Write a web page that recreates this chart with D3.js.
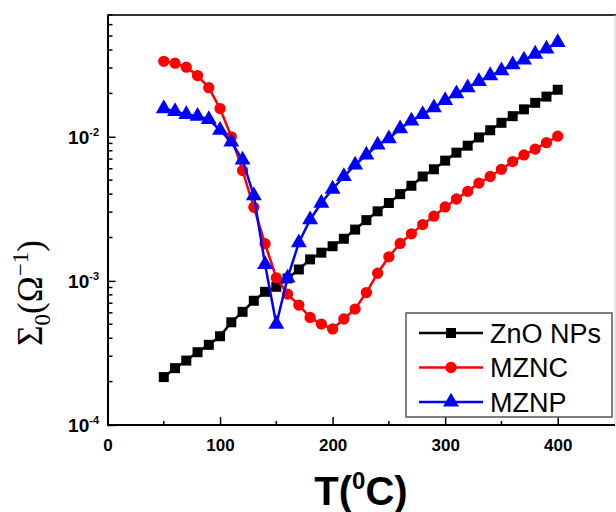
<!DOCTYPE html>
<html>
<head>
<meta charset="utf-8">
<script src="https://cdn.jsdelivr.net/npm/d3@7"></script>
<style>
  body { margin: 0; background: #fff; }
  svg { display: block; }
</style>
</head>
<body>
<svg id="chart" width="616" height="512"></svg>
<script>
// temperatures, 50..400 step 10
var temps = [50,60,70,80,90,100,110,120,130,140,150,160,170,180,190,200,210,220,230,240,
             250,260,270,280,290,300,310,320,330,340,350,360,370,380,390,400];

var znoValues = [2.15e-4,2.48e-4,2.8e-4,3.2e-4,3.6e-4,4.13e-4,5.16e-4,6.1e-4,7.28e-4,8.4e-4,
                 9.1e-4,1.04e-3,1.2e-3,1.41e-3,1.57e-3,1.74e-3,1.96e-3,2.27e-3,2.64e-3,3.04e-3,
                 3.47e-3,4.0e-3,4.57e-3,5.3e-3,5.95e-3,6.83e-3,7.76e-3,8.67e-3,9.9e-3,1.11e-2,
                 1.25e-2,1.39e-2,1.55e-2,1.72e-2,1.9e-2,2.12e-2];

var mzncValues = [3.34e-2,3.24e-2,3.04e-2,2.66e-2,2.19e-2,1.57e-2,1.0e-2,5.83e-3,3.24e-3,1.81e-3,
                  1.05e-3,8.1e-4,6.8e-4,5.58e-4,5.02e-4,4.64e-4,5.44e-4,6.38e-4,8.3e-4,1.13e-3,
                  1.47e-3,1.82e-3,2.12e-3,2.46e-3,2.81e-3,3.26e-3,3.7e-3,4.18e-3,4.77e-3,5.3e-3,
                  5.95e-3,6.73e-3,7.48e-3,8.22e-3,9.1e-3,1.01e-2];

var mznpValues = [1.57e-2,1.5e-2,1.43e-2,1.39e-2,1.32e-2,1.11e-2,9.2e-3,6.9e-3,3.9e-3,1.3e-3,
                  5.0e-4,1.05e-3,1.84e-3,2.66e-3,3.47e-3,4.34e-3,5.3e-3,6.38e-3,7.48e-3,8.77e-3,
                  9.7e-3,1.14e-2,1.29e-2,1.43e-2,1.59e-2,1.79e-2,1.99e-2,2.19e-2,2.42e-2,2.66e-2,
                  2.88e-2,3.17e-2,3.41e-2,3.75e-2,4.07e-2,4.52e-2];

var seriesNames = ["ZnO NPs", "MZNC", "MZNP"];
var xTicks = [0, 100, 200, 300, 400];
var xMinorTicks = [50, 150, 250, 350];
var yDecades = [1e-4, 1e-3, 1e-2];
var yExponents = ["-4", "-3", "-2"];

(function () {
  var series = [
    { name: seriesNames[0], values: znoValues, color: "#000000", symbol: d3.symbolSquare, size: 100 },
    { name: seriesNames[1], values: mzncValues, color: "#ff0000", symbol: d3.symbolCircle, size: 100 },
    { name: seriesNames[2], values: mznpValues, color: "#0000ff", symbol: d3.symbolTriangle, size: 110 }
  ];

  var svg = d3.select("#chart");
  var pLeft = 107.5, pRight = 614, pTop = 15, pBottom = 425;

  var x = d3.scaleLinear().domain([0, 450]).range([pLeft, pRight]);
  var y = d3.scaleLog().domain([1e-4, 7e-2]).range([pBottom, pTop]);

  // frame
  svg.append("line").attr("x1", pLeft).attr("x2", 616).attr("y1", pTop).attr("y2", pTop)
    .attr("stroke", "#333").attr("stroke-width", 2);
  svg.append("line").attr("x1", 615).attr("x2", 615).attr("y1", pTop).attr("y2", pBottom)
    .attr("stroke", "#ccc").attr("stroke-width", 1);

  // x axis
  var xAxis = svg.append("g").attr("transform", "translate(0," + pBottom + ")");
  xAxis.call(d3.axisBottom(x).tickValues(xTicks).tickSizeInner(-8).tickSizeOuter(0).tickPadding(14));
  xAxis.select(".domain").attr("stroke-width", 2).attr("d", "M" + pLeft + ",0H615");
  xAxis.selectAll(".tick line").attr("stroke-width", 1.5);
  xAxis.selectAll("text").attr("font-family", "Liberation Sans, Arial, sans-serif")
    .attr("font-weight", "bold").attr("font-size", 17).attr("fill", "#000");
  xAxis.selectAll(".minor").data(xMinorTicks).enter().append("line")
    .attr("x1", function(d) { return x(d); }).attr("x2", function(d) { return x(d); })
    .attr("y1", 0).attr("y2", -4).attr("stroke", "#000").attr("stroke-width", 1.5);

  // y axis
  var minor = [];
  yDecades.forEach(function(dec) {
    for (var k = 2; k <= 9; k++) { if (dec * k <= 7e-2 + 1e-9) minor.push(dec * k); }
  });
  var yAxis = svg.append("g").attr("transform", "translate(" + pLeft + ",0)");
  yAxis.call(d3.axisLeft(y).tickValues(yDecades).tickSizeInner(-8).tickSizeOuter(0).tickFormat(""));
  yAxis.select(".domain").attr("stroke-width", 2);
  yAxis.selectAll(".tick line").attr("stroke-width", 1.5);
  yAxis.selectAll(".minor").data(minor).enter().append("line")
    .attr("x1", 0).attr("x2", 5)
    .attr("y1", function(d) { return y(d); }).attr("y2", function(d) { return y(d); })
    .attr("stroke", "#000").attr("stroke-width", 1.5);

  var yLab = svg.append("g").selectAll("text").data(yDecades).enter().append("text")
    .attr("x", 99).attr("y", function(d) { return y(d) + 7; })
    .attr("text-anchor", "end")
    .attr("font-family", "Liberation Sans, Arial, sans-serif")
    .attr("font-weight", "bold").attr("font-size", 19);
  yLab.append("tspan").text("10");
  yLab.append("tspan").attr("dy", -8).attr("font-size", 11)
    .text(function(d, i) { return yExponents[i]; });

  // lines and markers
  var line = d3.line()
    .x(function(d, i) { return x(temps[i]); })
    .y(function(d) { return y(d); });

  series.forEach(function(s) {
    svg.append("path").datum(s.values)
      .attr("d", line).attr("fill", "none")
      .attr("stroke", s.color).attr("stroke-width", 2.5);
    svg.append("g").selectAll("path").data(s.values).enter().append("path")
      .attr("d", d3.symbol().type(s.symbol).size(s.size))
      .attr("transform", function(d, i) { return "translate(" + x(temps[i]) + "," + y(d) + ")"; })
      .attr("fill", s.color);
  });

  // legend
  var lg = svg.append("g");
  lg.append("rect").attr("x", 406).attr("y", 313).attr("width", 206).attr("height", 104)
    .attr("fill", "#fff").attr("stroke", "#555").attr("stroke-width", 1.5);
  series.forEach(function(s, i) {
    var ry = 333 + i * 34.5;
    lg.append("line").attr("x1", 419).attr("x2", 483).attr("y1", ry).attr("y2", ry)
      .attr("stroke", s.color).attr("stroke-width", 2.5);
    lg.append("path").attr("d", d3.symbol().type(s.symbol).size(s.size))
      .attr("transform", "translate(451," + ry + ")").attr("fill", s.color);
    lg.append("text").attr("x", 490).attr("y", ry + 9.5)
      .attr("font-family", "Liberation Sans, Arial, sans-serif").attr("font-size", 27)
      .text(s.name);
  });

  // axis titles
  var xt = svg.append("text").attr("x", 361).attr("y", 505).attr("text-anchor", "middle")
    .attr("font-family", "Liberation Sans, Arial, sans-serif").attr("font-weight", "bold")
    .attr("font-size", 40);
  xt.append("tspan").text("T(");
  xt.append("tspan").attr("font-size", 24).attr("dy", -16).text("0");
  xt.append("tspan").attr("dy", 16).text("C)");

  var yt = svg.append("text").attr("transform", "translate(42,293) rotate(-90)")
    .attr("text-anchor", "middle")
    .attr("font-family", "Liberation Serif, Times New Roman, serif").attr("font-size", 35);
  yt.append("tspan").text("\u03A3");
  yt.append("tspan").attr("font-size", 23).attr("dy", 8).text("0");
  yt.append("tspan").attr("dy", -8).text("(\u03A9");
  yt.append("tspan").attr("font-size", 23).attr("dy", -14).text("\u22121");
  yt.append("tspan").attr("dy", 14).text(")");
})();
</script>
</body>
</html>
